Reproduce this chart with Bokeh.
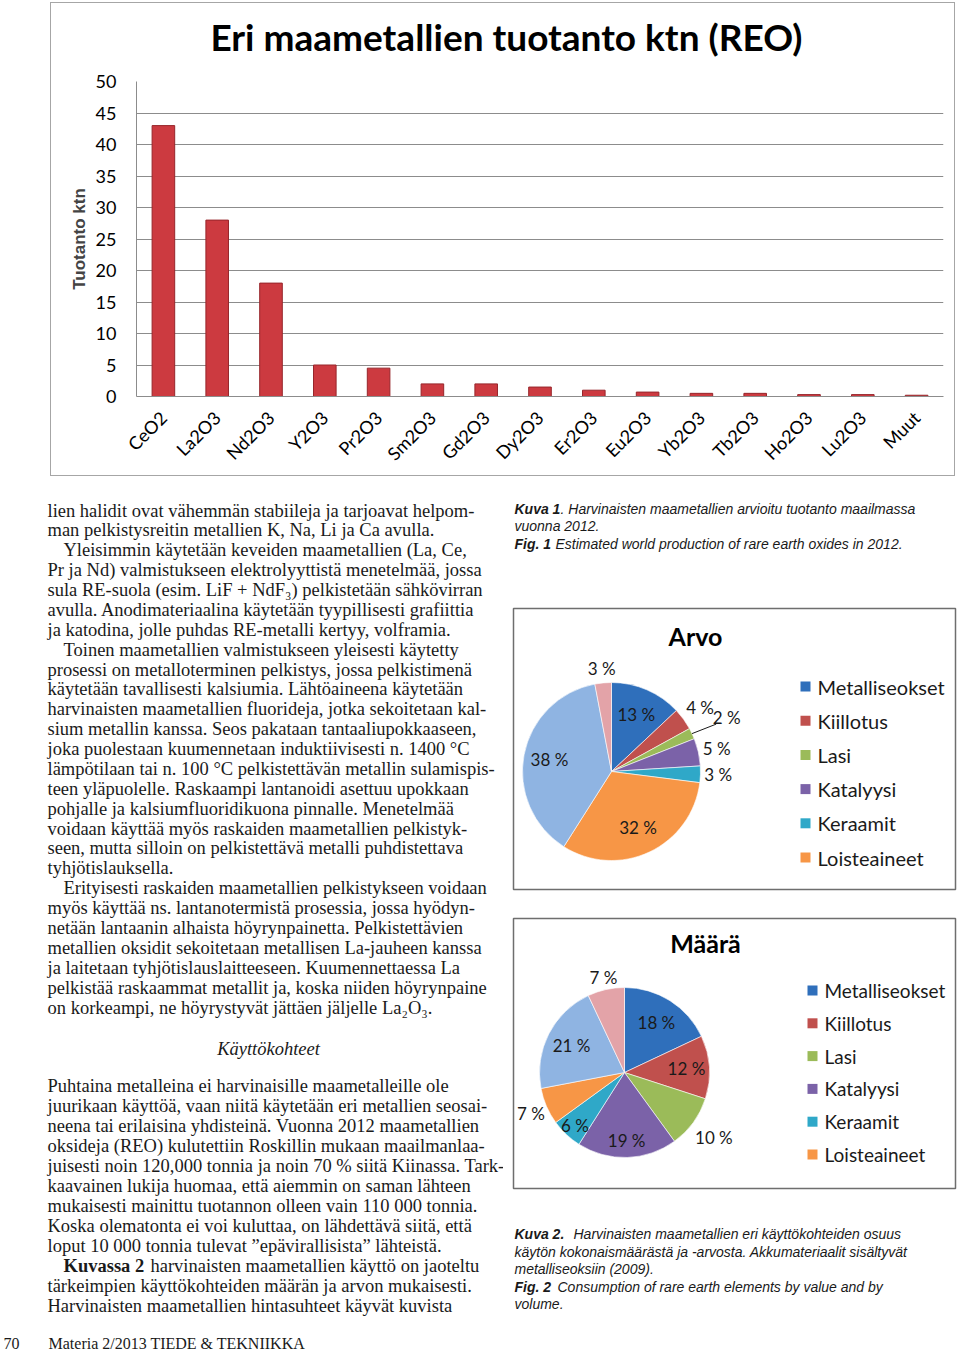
import numpy as np
from math import pi
from bokeh.plotting import figure
from bokeh.layouts import row, column
from bokeh.models import FactorRange, Range1d, ColumnDataSource, SingleIntervalTicker, Spacer
from bokeh.core.properties import value
from bokeh.embed import file_html
from bokeh.resources import INLINE

# ---------------- data ----------------
oxides = ["CeO2", "La2O3", "Nd2O3", "Y2O3", "Pr2O3", "Sm2O3", "Gd2O3", "Dy2O3",
          "Er2O3", "Eu2O3", "Yb2O3", "Tb2O3", "Ho2O3", "Lu2O3", "Muut"]
production = [43, 28, 18, 5, 4.5, 2, 2, 1.5, 1, 0.7, 0.5, 0.5, 0.3, 0.3, 0.2]
y_tick_step = 5

uses = ["Metalliseokset", "Kiillotus", "Lasi", "Katalyysi", "Keraamit",
        "Loisteaineet", "Magneetit", "Muut"]
legend_count = 6
value_share = [13, 4, 2, 5, 3, 32, 38, 3]     # Arvo
volume_share = [18, 12, 10, 19, 6, 7, 21, 7]  # Määrä

use_colors = ["#2f6fbb", "#c0504d", "#9bbb59", "#7b62a8", "#2fa8c8",
              "#f79646", "#8fb4e2", "#e3a3a8"]
value_label_r = [0.70, 1.23, 1.43, 1.21, 1.20, 0.70, 0.71, 1.16]
volume_label_r = [0.70, 0.73, 1.30, 0.80, 0.85, 1.20, 0.70, 1.14]

body_block1 = [
    "lien halidit ovat vähemmän stabiileja ja tarjoavat helpom-",
    "man pelkistysreitin metallien K, Na, Li ja Ca avulla.",
    "Yleisimmin käytetään keveiden maametallien (La, Ce,",
    "Pr ja Nd) valmistukseen elektrolyyttistä menetelmää, jossa",
    "sula RE-suola (esim. LiF + NdF₃) pelkistetään sähkövirran",
    "avulla. Anodimateriaalina käytetään tyypillisesti grafiittia",
    "ja katodina, jolle puhdas RE-metalli kertyy, volframia.",
    "Toinen maametallien valmistukseen yleisesti käytetty",
    "prosessi on metalloterminen pelkistys, jossa pelkistimenä",
    "käytetään tavallisesti kalsiumia. Lähtöaineena käytetään",
    "harvinaisten maametallien fluorideja, jotka sekoitetaan kal-",
    "sium metallin kanssa. Seos pakataan tantaaliupokkaaseen,",
    "joka puolestaan kuumennetaan induktiivisesti n. 1400 °C",
    "lämpötilaan tai n. 100 °C pelkistettävän metallin sulamispis-",
    "teen yläpuolelle. Raskaampi lantanoidi asettuu upokkaan",
    "pohjalle ja kalsiumfluoridikuona pinnalle. Menetelmää",
    "voidaan käyttää myös raskaiden maametallien pelkistyk-",
    "seen, mutta silloin on pelkistettävä metalli puhdistettava",
    "tyhjötislauksella.",
    "Erityisesti raskaiden maametallien pelkistykseen voidaan",
    "myös käyttää ns. lantanotermistä prosessia, jossa hyödyn-",
    "netään lantaanin alhaista höyrynpainetta. Pelkistettävien",
    "metallien oksidit sekoitetaan metallisen La-jauheen kanssa",
    "ja laitetaan tyhjötislauslaitteeseen. Kuumennettaessa La",
    "pelkistää raskaammat metallit ja, koska niiden höyrynpaine",
    "on korkeampi, ne höyrystyvät jättäen jäljelle La₂O₃.",
]
block1_indent = [2, 7, 19]

body_block2 = [
    "Puhtaina metalleina ei harvinaisille maametalleille ole",
    "juurikaan käyttöä, vaan niitä käytetään eri metallien seosai-",
    "neena tai erilaisina yhdisteinä. Vuonna 2012 maametallien",
    "oksideja (REO) kulutettiin Roskillin mukaan maailmanlaa-",
    "juisesti noin 120,000 tonnia ja noin 70 % siitä Kiinassa. Tark-",
    "kaavainen lukija huomaa, että aiemmin on saman lähteen",
    "mukaisesti mainittu tuotannon olleen vain 110 000 tonnia.",
    "Koska olematonta ei voi kuluttaa, on lähdettävä siitä, että",
    "loput 10 000 tonnia tulevat ”epävirallisista” lähteistä.",
    "",
    "tärkeimpien käyttökohteiden määrän ja arvon mukaisesti.",
    "Harvinaisten maametallien hintasuhteet käyvät kuvista",
]

SERIF = value("Liberation Serif")
SANS = value("Liberation Sans")
LATO = value("Lato")
BODY_SIZE = "18.5px"


def blank(width, height, xr, yr):
    p = figure(width=width, height=height, x_range=xr, y_range=yr,
               x_axis_type=None, y_axis_type=None, min_border=0,
               output_backend="svg", toolbar_location=None)
    p.outline_line_color = None
    p.grid.visible = False
    p.background_fill_color = "white"
    p.border_fill_color = "white"
    return p


# ---------------- bar chart ----------------
pTitle = blank(903, 60, Range1d(51, 954), Range1d(63, 3))
pTitle.text(x=[465], y=[36], text=["Eri maametallien tuotanto ktn (REO)"],
            text_font=LATO, text_font_size="37px", text_font_style="bold",
            text_color="black", text_align="center", text_baseline="middle")

pA = figure(width=903, height=412, x_range=FactorRange(factors=oxides),
            y_range=Range1d(0, 50), output_backend="svg", toolbar_location=None,
            min_border_left=85, min_border_right=11, min_border_top=18,
            min_border_bottom=78)
pA.outline_line_color = None
pA.vbar(x=oxides, top=production, width=0.42, fill_color="#cc3a40",
        line_color="#97262b", line_width=1)
pA.yaxis.ticker = SingleIntervalTicker(interval=y_tick_step)
pA.yaxis.axis_label = "Tuotanto ktn"
pA.yaxis.axis_label_text_font = "Liberation Sans"
pA.yaxis.axis_label_text_font_style = "bold"
pA.yaxis.axis_label_text_font_size = "17px"
pA.yaxis.axis_label_standoff = 4
pA.axis.major_label_text_font = "Lato"
pA.axis.major_label_text_font_size = "18px"
pA.axis.major_label_text_color = "black"
pA.axis.major_tick_line_color = None
pA.axis.minor_tick_line_color = None
pA.axis.axis_line_color = "#8c8c8c"
pA.yaxis.major_label_standoff = 14
pA.xaxis.major_label_orientation = pi / 4
pA.xaxis.major_label_standoff = 12
pA.xgrid.grid_line_color = None
pA.ygrid.grid_line_color = "#8c8c8c"

bar_box = column(pTitle, pA, styles={"border": "1px solid #a6a6a6"})

# ---------------- body text ----------------
pT = blank(503, 878, Range1d(0, 503), Range1d(1354, 476))
xs1 = [63 if i in block1_indent else 47 for i in range(len(body_block1))]
ys1 = [510 + i * 19.88 for i in range(len(body_block1))]
pT.text(x=xs1, y=ys1, text=body_block1, text_font=SERIF, text_font_size=BODY_SIZE,
        text_baseline="middle", text_color="#1a1a1a")
ys2 = [1085 + i * 20 for i in range(len(body_block2))]
pT.text(x=[47] * len(body_block2), y=ys2, text=body_block2, text_font=SERIF,
        text_font_size=BODY_SIZE, text_baseline="middle", text_color="#1a1a1a")
pT.text(x=[63], y=[ys2[9]], text=["Kuvassa 2"], text_font=SERIF,
        text_font_size=BODY_SIZE, text_font_style="bold", text_baseline="middle",
        text_color="#1a1a1a")
pT.text(x=[150], y=[ys2[9]], text=["harvinaisten maametallien käyttö on jaoteltu"],
        text_font=SERIF, text_font_size=BODY_SIZE, text_baseline="middle",
        text_color="#1a1a1a")
pT.text(x=[268], y=[1048], text=["Käyttökohteet"], text_font=SERIF,
        text_font_size=BODY_SIZE, text_font_style="italic", text_align="center",
        text_baseline="middle", text_color="#1a1a1a")
pT.text(x=[3, 48], y=[1343, 1343], text=["70", "Materia 2/2013  TIEDE & TEKNIIKKA"],
        text_font=SERIF, text_font_size="16px", text_baseline="middle",
        text_color="#1a1a1a")

# ---------------- captions ----------------
def caption(p, x, y, txt, style):
    p.text(x=[x], y=[y], text=[txt], text_font=SANS, text_font_size="14px",
           text_font_style=style, text_baseline="middle", text_color="#1a1a1a")

pC1 = blank(457, 124, Range1d(503, 960), Range1d(600, 476))
caption(pC1, 514, 508, "Kuva 1", "bold italic")
caption(pC1, 560, 508, ". Harvinaisten maametallien arvioitu tuotanto maailmassa", "italic")
caption(pC1, 514, 525, "vuonna 2012.", "italic")
caption(pC1, 514, 543, "Fig. 1", "bold italic")
caption(pC1, 555, 543, "Estimated world production of rare earth oxides in 2012.", "italic")

pC2 = blank(457, 154, Range1d(503, 960), Range1d(1354, 1200))
caption(pC2, 514, 1233, "Kuva 2.", "bold italic")
caption(pC2, 573, 1233, "Harvinaisten maametallien eri käyttökohteiden osuus", "italic")
caption(pC2, 514, 1251, "käytön kokonaismäärästä ja -arvosta. Akkumateriaalit sisältyvät", "italic")
caption(pC2, 514, 1268, "metalliseoksiin (2009).", "italic")
caption(pC2, 514, 1286, "Fig. 2", "bold italic")
caption(pC2, 557, 1286, "Consumption of rare earth elements by value and by", "italic")
caption(pC2, 514, 1303, "volume.", "italic")


# ---------------- pies ----------------
def pie_figure(title, shares, label_r, cx, cy, r, title_xy, leg_x, leg_y0, leg_step,
               leg_size, box):
    W, H = 457, 300
    p = blank(W, H, Range1d(-cx, W - cx), Range1d(-(H - cy), cy))
    left, right, top, bottom = box
    p.quad(left=[left], right=[right], top=[top], bottom=[bottom],
           fill_color=None, line_color="#6e6e6e", line_width=1.5)
    frac = np.array(shares, dtype=float) / sum(shares)
    cum = np.concatenate([[0.0], np.cumsum(frac)])
    src = ColumnDataSource(dict(
        start=pi / 2 - 2 * pi * cum[1:],
        end=pi / 2 - 2 * pi * cum[:-1],
        color=use_colors[:len(shares)],
    ))
    p.wedge(x=0, y=0, radius=r, start_angle="start", end_angle="end",
            fill_color="color", line_color="white", line_width=0.6, source=src)
    mid = (cum[:-1] + cum[1:]) / 2 * 2 * pi
    lr = np.array(label_r)
    lx = r * lr * np.sin(mid)
    ly = r * lr * np.cos(mid)
    p.text(x=lx, y=ly, text=[f"{s} %" for s in shares], text_font=LATO,
           text_font_size="17px", text_align="center", text_baseline="middle",
           text_color="#1a1a1a")
    for i in range(len(shares)):
        if lr[i] > 1.35:
            p.line(x=[r * np.sin(mid[i]), r * 1.25 * np.sin(mid[i]) + 4],
                   y=[r * np.cos(mid[i]), r * 1.25 * np.cos(mid[i])],
                   line_color="#1a1a1a", line_width=1)
    p.text(x=[title_xy[0]], y=[title_xy[1]], text=[title], text_font=LATO,
           text_font_size="25px", text_font_style="bold", text_align="center",
           text_baseline="middle", text_color="black")
    ly_leg = [leg_y0 - i * leg_step for i in range(legend_count)]
    p.scatter(x=[leg_x] * legend_count, y=ly_leg, marker="square", size=10,
              fill_color=use_colors[:legend_count], line_color=None)
    p.text(x=[leg_x + 12] * legend_count, y=ly_leg, text=uses[:legend_count],
           text_font=LATO, text_font_size=leg_size, text_baseline="middle",
           text_color="#1a1a1a")
    return p


pP1 = pie_figure("Arvo", value_share, value_label_r, 108, 171, 89, (84, 136),
                 194, 85, 34.2, "20px", (-98, 344, 163, -118))
pP2 = pie_figure("Määrä", volume_share, volume_label_r, 121, 172, 85, (81, 130),
                 188, 82, 32.8, "19px", (-111, 331, 154, -116))

layout = column(
    Spacer(width=960, height=2),
    row(Spacer(width=50, height=474), bar_box),
    row(pT, column(pC1, pP1, pP2, pC2)),
)

open("out.html", "w").write(file_html(layout, INLINE, title="Eri maametallien tuotanto"))
